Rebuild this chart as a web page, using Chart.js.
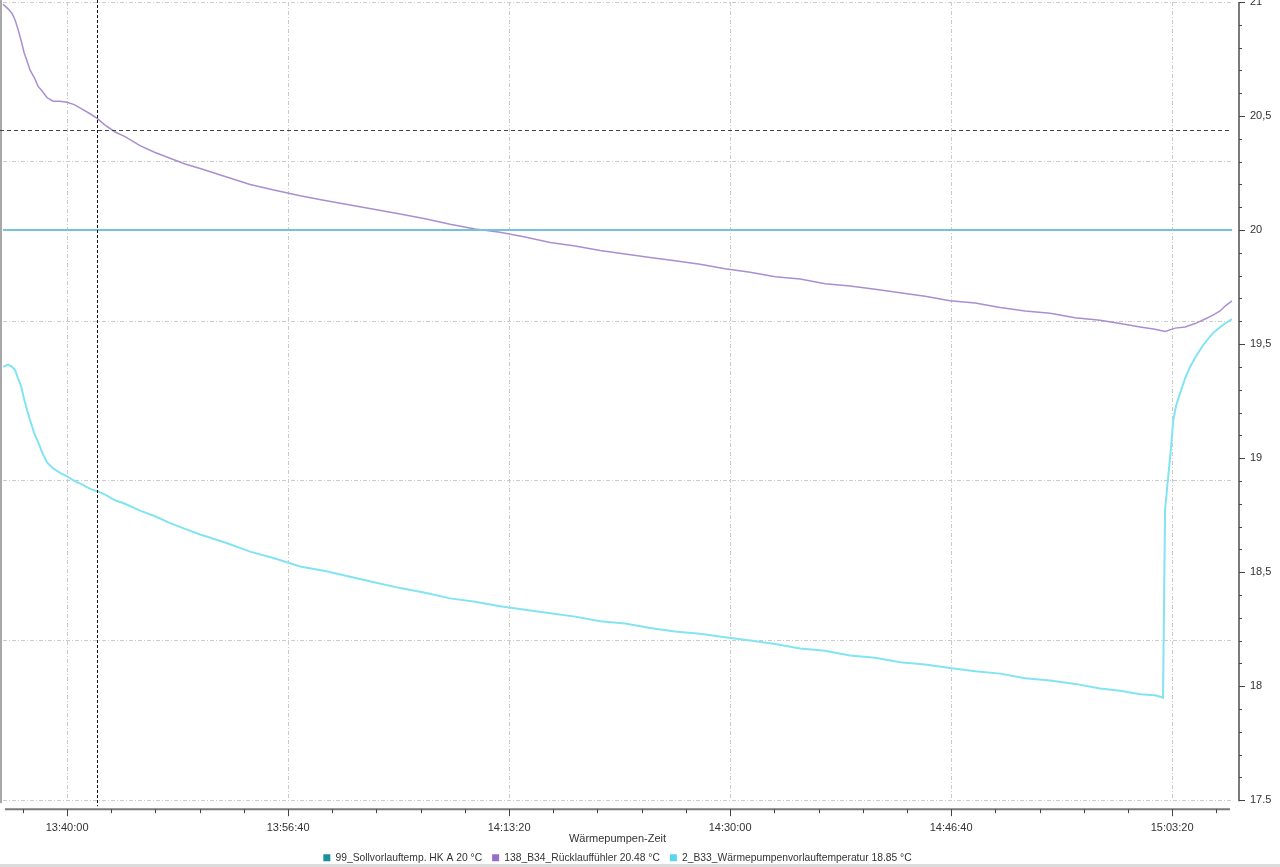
<!DOCTYPE html>
<html>
<head>
<meta charset="utf-8">
<script src="https://cdn.jsdelivr.net/npm/chart.js@4.4.1/dist/chart.umd.min.js"></script>
<style>
  html, body { margin: 0; padding: 0; background: #fff; }
  #wrap { width: 1280px; height: 867px; position: relative; }
</style>
</head>
<body>
<div id="wrap"><canvas id="chart" width="1280" height="867"></canvas></div>
<script>
// Serie 99 – Sollwert (konstant)
const sollTimes = ['13:35:10', '15:07:51'];
const sollValues = [20, 20];

// Serie 138 – Rücklauffühler
const ruecklaufTimes = [
    '13:35:10', '13:35:33', '13:35:51', '13:36:05', '13:36:18', '13:36:32', '13:36:45', '13:36:59',
    '13:37:13', '13:37:31', '13:37:49', '13:38:07', '13:38:30', '13:38:57', '13:39:28', '13:40:00',
    '13:40:32', '13:41:08', '13:41:44', '13:42:16', '13:42:52', '13:43:37', '13:44:22', '13:45:30',
    '13:46:38', '13:47:46', '13:48:54', '13:50:02', '13:51:55', '13:53:48', '13:55:41', '13:57:34',
    '13:59:27', '14:01:21', '14:03:14', '14:05:07', '14:07:00', '14:08:53', '14:10:46', '14:12:39',
    '14:14:32', '14:16:26', '14:18:19', '14:20:12', '14:22:05', '14:23:58', '14:25:51', '14:27:44',
    '14:29:37', '14:31:31', '14:33:24', '14:35:17', '14:37:10', '14:39:03', '14:40:56', '14:42:49',
    '14:44:42', '14:46:35', '14:48:29', '14:50:22', '14:52:15', '14:54:08', '14:56:01', '14:57:54',
    '14:59:25', '15:00:55', '15:02:03', '15:02:48', '15:03:34', '15:04:19', '15:05:04', '15:05:49',
    '15:06:21', '15:06:57', '15:07:24', '15:07:51'
];
const ruecklaufValues = [
    20.99, 20.97, 20.95, 20.92, 20.88, 20.83, 20.78, 20.74,
    20.70, 20.67, 20.63, 20.61, 20.58, 20.565, 20.565, 20.56,
    20.55, 20.53, 20.51, 20.49, 20.46, 20.43, 20.41, 20.37,
    20.34, 20.315, 20.29, 20.27, 20.235, 20.20, 20.175, 20.15,
    20.13, 20.11, 20.09, 20.07, 20.05, 20.025, 20.005, 19.99,
    19.97, 19.945, 19.93, 19.91, 19.895, 19.88, 19.865, 19.85,
    19.83, 19.815, 19.795, 19.785, 19.765, 19.755, 19.74, 19.725,
    19.71, 19.69, 19.68, 19.66, 19.645, 19.635, 19.615, 19.605,
    19.59, 19.575, 19.565, 19.555, 19.57, 19.575, 19.59, 19.61,
    19.625, 19.645, 19.67, 19.69
];

// Serie 2 – Wärmepumpenvorlauftemperatur
const vorlaufTimes = [
    '13:35:10', '13:35:33', '13:35:51', '13:36:05', '13:36:18', '13:36:32', '13:36:45', '13:36:59',
    '13:37:13', '13:37:31', '13:37:49', '13:38:07', '13:38:30', '13:38:57', '13:39:28', '13:40:00',
    '13:40:32', '13:41:08', '13:41:44', '13:42:16', '13:42:52', '13:43:37', '13:44:22', '13:45:30',
    '13:46:38', '13:47:46', '13:48:54', '13:50:02', '13:51:55', '13:53:48', '13:55:41', '13:57:34',
    '13:59:27', '14:01:21', '14:03:14', '14:05:07', '14:07:00', '14:08:53', '14:10:46', '14:12:39',
    '14:14:32', '14:16:26', '14:18:19', '14:20:12', '14:22:05', '14:23:58', '14:25:51', '14:27:44',
    '14:29:37', '14:31:31', '14:33:24', '14:35:17', '14:37:10', '14:39:03', '14:40:56', '14:42:49',
    '14:44:42', '14:46:35', '14:48:29', '14:50:22', '14:52:15', '14:54:08', '14:56:01', '14:57:54',
    '14:59:25', '15:00:55', '15:02:03', '15:02:39', '15:02:48', '15:02:57', '15:03:06', '15:03:16',
    '15:03:25', '15:03:38', '15:03:56', '15:04:19', '15:04:41', '15:05:04', '15:05:40', '15:06:26',
    '15:07:11', '15:07:51'
];
const vorlaufValues = [
    19.40, 19.41, 19.40, 19.385, 19.35, 19.315, 19.26, 19.21,
    19.165, 19.11, 19.07, 19.025, 18.98, 18.955, 18.935, 18.92,
    18.90, 18.885, 18.865, 18.855, 18.84, 18.815, 18.80, 18.77,
    18.745, 18.715, 18.69, 18.665, 18.63, 18.59, 18.56, 18.525,
    18.505, 18.48, 18.455, 18.43, 18.41, 18.385, 18.37, 18.35,
    18.335, 18.32, 18.305, 18.285, 18.275, 18.255, 18.24, 18.23,
    18.215, 18.20, 18.185, 18.165, 18.155, 18.135, 18.125, 18.105,
    18.095, 18.08, 18.065, 18.055, 18.035, 18.025, 18.01, 17.99,
    17.98, 17.965, 17.96, 17.95, 18.77, 18.865, 18.955, 19.055,
    19.165, 19.23, 19.285, 19.35, 19.40, 19.44, 19.495, 19.55,
    19.585, 19.61
];

// Achsen
const yMajorValues = [17.5, 18, 18.5, 19, 19.5, 20, 20.5, 21];
const yMajorLabels = ['17.5', '18', '18,5', '19', '19,5', '20', '20,5', '21'];
const xMajorLabels = ['13:40:00', '13:56:40', '14:13:20', '14:30:00', '14:46:40', '15:03:20'];

// Fadenkreuz
const cursorTime = '13:42:16';
const cursorValue = 20.44;

function toSec(t) {
    const p = t.split(':').map(Number);
    return p[0] * 3600 + p[1] * 60 + p[2];
}
function toClock(s) {
    const h = Math.floor(s / 3600), m = Math.floor((s % 3600) / 60), sec = Math.round(s % 60);
    return h + ':' + String(m).padStart(2, '0') + ':' + String(sec).padStart(2, '0');
}
function points(times, values) {
    return times.map((t, i) => ({ x: toSec(t), y: values[i] }));
}

const xMin = toSec('13:35:10');
const xMax = toSec('15:07:51');
const xMajorSec = xMajorLabels.map(toSec);
const FONT = 'Liberation Sans';
const GRID = '#cbcbcb';

// Achsenlinien, Teilstriche, Fadenkreuz
const axisDeco = {
    id: 'axisDeco',
    beforeDraw(chart) {
        // untere Leiste (Fensterrand)
        chart.ctx.save();
        chart.ctx.fillStyle = '#dcdcdc';
        chart.ctx.fillRect(0, 864, 1280, 3);
        chart.ctx.restore();
    },
    afterDraw(chart) {
        const ctx = chart.ctx;
        const area = chart.chartArea;
        const x = chart.scales.x, y = chart.scales.y;
        ctx.save();
        // linker Rahmen
        ctx.fillStyle = '#a8a8a8';
        ctx.fillRect(0, 0, 2, area.bottom + 3);

        // y-Achse rechts
        const yx = area.right + 7;
        ctx.strokeStyle = '#7a7a7a';
        ctx.lineWidth = 2;
        ctx.beginPath();
        ctx.moveTo(yx, y.getPixelForValue(21));
        ctx.lineTo(yx, y.getPixelForValue(17.5) + 1);
        ctx.stroke();
        ctx.lineWidth = 1;
        ctx.strokeStyle = '#444';
        for (const t of y.ticks) {
            const py = Math.round(y.getPixelForValue(t.value)) + 0.5;
            const major = yMajorValues.some(v => Math.abs(v - t.value) < 1e-6);
            ctx.beginPath();
            ctx.moveTo(yx, py);
            ctx.lineTo(yx + (major ? 6 : 3), py);
            ctx.stroke();
        }

        // x-Achse unten
        const xy = area.bottom + 9;
        ctx.strokeStyle = '#7a7a7a';
        ctx.lineWidth = 2;
        ctx.beginPath();
        ctx.moveTo(area.left + 2, xy);
        ctx.lineTo(area.right - 2, xy);
        ctx.stroke();
        ctx.lineWidth = 1;
        ctx.strokeStyle = '#444';
        for (const t of x.ticks) {
            const px = Math.round(x.getPixelForValue(t.value)) + 0.5;
            const major = xMajorSec.includes(t.value);
            ctx.beginPath();
            ctx.moveTo(px, xy);
            ctx.lineTo(px, xy + (major ? 7 : 4));
            ctx.stroke();
        }

        // Fadenkreuz
        const cx = Math.round(x.getPixelForValue(toSec(cursorTime))) + 0.5;
        const cy = Math.round(y.getPixelForValue(cursorValue)) + 0.5;
        ctx.setLineDash([3, 2]);
        ctx.strokeStyle = '#111';
        ctx.beginPath();
        ctx.moveTo(cx, 0);
        ctx.lineTo(cx, area.bottom + 6);
        ctx.stroke();
        ctx.setLineDash([4, 3]);
        ctx.strokeStyle = '#444';
        ctx.beginPath();
        ctx.moveTo(0, cy);
        ctx.lineTo(area.right, cy);
        ctx.stroke();
        ctx.restore();
    }
};

new Chart(document.getElementById('chart'), {
    type: 'line',
    data: {
        datasets: [
            {
                label: '99_Sollvorlauftemp. HK A 20 °C',
                data: points(sollTimes, sollValues),
                borderColor: '#74c2dc',
                backgroundColor: '#1b8ea0',
                borderWidth: 2,
            },
            {
                label: '138_B34_Rücklauffühler 20.48 °C',
                data: points(ruecklaufTimes, ruecklaufValues),
                borderColor: '#a98fd2',
                backgroundColor: '#9a6cc9',
                borderWidth: 1.5,
            },
            {
                label: '2_B33_Wärmepumpenvorlauftemperatur 18.85 °C',
                data: points(vorlaufTimes, vorlaufValues),
                borderColor: '#82e4f2',
                backgroundColor: '#5cd6ee',
                borderWidth: 2,
            },
        ]
    },
    options: {
        responsive: false,
        animation: false,
        events: [],
        elements: { point: { radius: 0 }, line: { tension: 0 } },
        layout: { padding: { left: 3, top: 2, right: 0, bottom: -6 } },
        scales: {
            x: {
                type: 'linear',
                min: xMin,
                max: xMax,
                afterBuildTicks(scale) {
                    const ticks = [];
                    for (let v = Math.ceil(xMin / 200) * 200; v <= xMax; v += 200) ticks.push({ value: v });
                    scale.ticks = ticks;
                },
                afterFit(scale) { scale.height = 42.5; },
                ticks: {
                    autoSkip: false,
                    maxRotation: 0,
                    padding: 21,
                    color: '#333',
                    font: { family: FONT, size: 11 },
                    callback: v => xMajorSec.includes(v) ? toClock(v) : '',
                },
                grid: {
                    drawTicks: false,
                    color: c => c.tick && xMajorSec.includes(c.tick.value) ? GRID : 'rgba(0,0,0,0)',
                },
                border: { display: false, dash: [4, 2, 1, 2] },
                title: {
                    display: true,
                    text: 'Wärmepumpen-Zeit',
                    color: '#333',
                    font: { family: FONT, size: 11, lineHeight: 1 },
                    padding: { top: 0, bottom: -2 },
                },
            },
            y: {
                position: 'right',
                min: 17.5,
                max: 21,
                afterBuildTicks(scale) {
                    const ticks = [];
                    for (let i = 0; i <= 35; i++) ticks.push({ value: Math.round((17.5 + i * 0.1) * 10) / 10 });
                    scale.ticks = ticks;
                },
                afterFit(scale) {
                    scale.width = 48;
                    scale.paddingTop = 0;
                    scale.paddingBottom = 0;
                },
                ticks: {
                    autoSkip: false,
                    padding: 18,
                    color: '#333',
                    font: { family: FONT, size: 11 },
                    callback: v => {
                        const i = yMajorValues.findIndex(m => Math.abs(m - v) < 1e-6);
                        return i >= 0 ? yMajorLabels[i] : '';
                    },
                },
                grid: {
                    drawTicks: false,
                    color: c => {
                        if (!c.tick) return 'rgba(0,0,0,0)';
                        const k = Math.round((c.tick.value - 17.5) * 10);
                        return k % 7 === 0 ? GRID : 'rgba(0,0,0,0)';
                    },
                },
                border: { display: false, dash: [4, 2, 1, 2] },
            },
        },
        plugins: {
            tooltip: { enabled: false },
            legend: {
                position: 'bottom',
                fullSize: false,
                labels: {
                    boxWidth: 7,
                    boxHeight: 7,
                    padding: 10,
                    color: '#333',
                    font: { family: FONT, size: 10.3 },
                    generateLabels(chart) {
                        const items = Chart.defaults.plugins.legend.labels.generateLabels(chart);
                        items.forEach(it => { it.strokeStyle = it.fillStyle; it.lineWidth = 0; });
                        return items;
                    },
                },
            },
        },
    },
    plugins: [axisDeco],
});
</script>
</body>
</html>
